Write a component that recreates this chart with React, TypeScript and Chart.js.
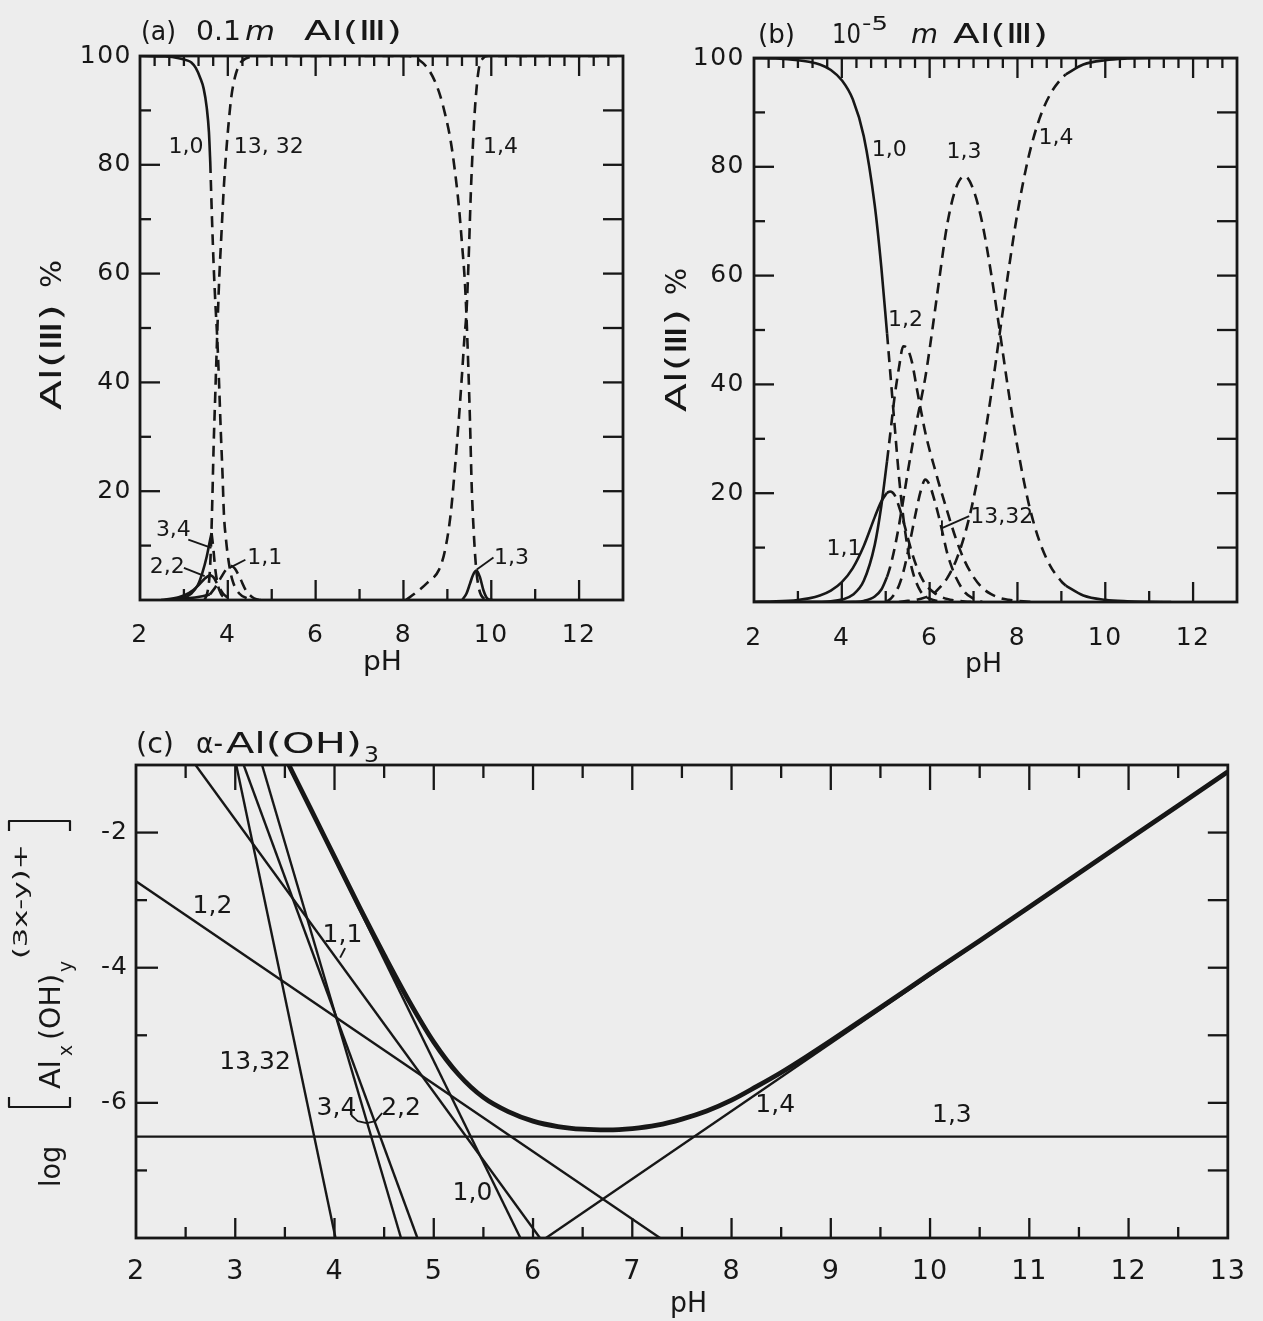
import React, { useEffect, useRef } from "react";
import { Chart, registerables } from "chart.js";
Chart.register(...registerables);

const INK = "#171717";
const PAPER = "#ededed";
const FONT = "'DejaVu Sans', 'Liberation Sans', sans-serif";

// ---------------- Panel (a): 0.1 m Al(III) ----------------
const aXTicks = [2, 4, 6, 8, 10, 12];
const aYTicks = [20, 40, 60, 80, 100];

const a10SolidPH = [2.0, 2.58, 2.88, 3.07, 3.17, 3.27, 3.37, 3.45, 3.52, 3.57, 3.6];
const a10SolidPct = [100, 99.9, 99.6, 99.2, 98.8, 97.8, 96, 94, 90.5, 86, 80.5];
const a10DashPH = [3.6, 3.64, 3.68, 3.72, 3.76, 3.8, 3.84, 3.88, 3.91, 3.96, 4.03, 4.11, 4.26, 4.45, 4.75];
const a10DashPct = [80.5, 70, 61, 54, 48, 40, 31, 23, 16, 11, 6.5, 3.5, 1.2, 0.3, 0];

const a1332PH = [3.469, 3.538, 3.587, 3.617, 3.646, 3.676, 3.715, 3.755, 3.804, 3.853, 3.903, 3.942, 4.011, 4.08, 4.159, 4.267, 4.405, 4.652, 8.104, 8.351, 8.598, 8.805, 8.943, 9.071, 9.17, 9.259, 9.338, 9.397, 9.436, 9.476, 9.515, 9.554, 9.604, 9.653, 9.722, 9.83, 9.978];
const a1332Pct = [0, 1.5, 4.8, 10, 18, 28, 38, 48, 59, 67, 75, 80, 87, 92.5, 96, 98.5, 99.5, 100, 100, 99.3, 97.2, 93.5, 89.5, 84.6, 79, 72.6, 65, 58.7, 52, 43, 33, 21, 12, 6, 2, 0.3, 0];

const a14PH = [8.055, 8.262, 8.548, 8.805, 8.943, 9.071, 9.17, 9.259, 9.338, 9.387, 9.436, 9.486, 9.535, 9.584, 9.634, 9.713, 9.801, 9.929, 13];
const a14Pct = [0, 1.2, 3.2, 5.5, 9, 15.5, 24, 33, 42, 48, 53, 63, 75, 84, 91, 97.5, 99.5, 100, 100];

const a13PH = [9.337, 9.436, 9.515, 9.584, 9.663, 9.742, 9.821, 9.909, 10.027];
const a13Pct = [0, 1.2, 3, 4.6, 5.4, 4.2, 1.8, 0.3, 0];

const a34SolidPH = [2.68, 2.975, 3.17, 3.32, 3.42, 3.52, 3.59, 3.63];
const a34SolidPct = [0, 0.4, 1.2, 2.8, 5, 8, 10.8, 12.3];
const a34DashPH = [3.63, 3.67, 3.71, 3.765, 3.84, 3.96];
const a34DashPct = [12.3, 9.5, 6, 3, 1.2, 0.2];

const a22SolidPH = [2.48, 2.88, 3.12, 3.32, 3.47, 3.59];
const a22SolidPct = [0, 0.5, 1.3, 2.6, 3.9, 4.6];
const a22DashPH = [3.59, 3.67, 3.77, 3.89, 4.02];
const a22DashPct = [4.6, 4.2, 2.8, 1.2, 0.3];

const a11SolidPH = [2.58, 3.07, 3.42, 3.59];
const a11SolidPct = [0, 0.3, 0.7, 1.0];
const a11DashPH = [3.59, 3.72, 3.85, 3.96, 4.06, 4.16, 4.28, 4.41, 4.56, 4.7];
const a11DashPct = [1.0, 2.4, 4.2, 5.6, 6.3, 5.8, 4, 1.8, 0.5, 0];

// ---------------- Panel (b): 1e-5 m Al(III) ----------------
const bXTicks = [2, 4, 6, 8, 10, 12];
const bYTicks = [20, 40, 60, 80, 100];

const b10SolidPH = [2, 2.5, 3, 3.25, 3.5, 3.75, 4, 4.25, 4.5, 4.75, 4.9, 5.03];
const b10SolidPct = [99.96, 99.9, 99.6, 99.3, 98.8, 97.8, 95.9, 92.4, 85.6, 72.9, 61.5, 49.4];
const b10DashPH = [5.03, 5.1, 5.2, 5.3, 5.4, 5.5, 5.6, 5.7, 5.8, 5.9, 6.0, 6.2, 6.4];
const b10DashPct = [49.4, 42.5, 32.7, 23.2, 15.6, 9.9, 6.0, 3.5, 1.9, 1.1, 0.6, 0.15, 0];

const b11SolidPH = [2, 2.5, 3, 3.25, 3.5, 3.75, 4, 4.25, 4.5, 4.75, 4.9, 5.03];
const b11SolidPct = [0.04, 0.12, 0.38, 0.67, 1.19, 2.09, 3.65, 6.24, 10.3, 15.6, 18.5, 20.1];
const b11DashPH = [5.03, 5.1, 5.2, 5.3, 5.4, 5.5, 5.6, 5.7, 5.8, 5.9, 6.0, 6.2, 6.4, 6.6, 6.8, 7.0];
const b11DashPct = [20.1, 20.3, 19.7, 17.6, 14.9, 11.9, 9.0, 6.6, 4.7, 3.3, 2.4, 1.2, 0.55, 0.24, 0.1, 0];

const b12SolidPH = [3, 3.5, 3.75, 4, 4.25, 4.5, 4.75, 4.9, 5.03];
const b12SolidPct = [0.01, 0.05, 0.14, 0.44, 1.33, 3.9, 10.5, 17.7, 25.9];
const b12DashPH = [5.03, 5.1, 5.2, 5.3, 5.4, 5.5, 5.6, 5.7, 5.8, 5.9, 6.0, 6.1, 6.2, 6.4, 6.6, 6.8, 7.0, 7.2, 7.4, 7.6, 7.8, 8.0, 8.4];
const b12DashPct = [25.9, 30.7, 37.6, 43, 47, 46.5, 44, 39.6, 35.3, 31.2, 27.9, 25.0, 22.1, 16.7, 11.6, 7.5, 4.6, 2.6, 1.45, 0.75, 0.4, 0.2, 0];

const b13SolidPH = [4.0, 4.25, 4.5, 4.75, 4.9, 5.03];
const b13SolidPct = [0, 0.04, 0.2, 1.0, 2.3, 4.6];
const b13DashPH = [5.03, 5.1, 5.2, 5.3, 5.4, 5.5, 5.6, 5.7, 5.8, 5.9, 6.0, 6.1, 6.2, 6.4, 6.6, 6.8, 7.0, 7.2, 7.4, 7.6, 7.8, 8.0, 8.25, 8.5, 8.75, 9.0, 9.1];
const b13DashPct = [4.6, 6.4, 9.8, 14.0, 18.8, 23.8, 28.5, 33.0, 37.0, 41.2, 46.5, 52.3, 58.2, 69.4, 76.1, 78.3, 75.7, 69.6, 60.4, 49.6, 38.5, 28.5, 18.3, 11.2, 6.6, 3.8, 3.0];
const b13Solid2PH = [9.1, 9.5, 10, 10.5, 11, 11.5];
const b13Solid2Pct = [3.0, 1.2, 0.4, 0.13, 0.04, 0];

const b14DashPH = [5.3, 5.5, 5.7, 5.9, 6.0, 6.1, 6.2, 6.4, 6.6, 6.8, 7.0, 7.2, 7.4, 7.6, 7.8, 8.0, 8.25, 8.5, 8.75, 9.0, 9.1];
const b14DashPct = [0, 0.2, 0.4, 0.85, 1.2, 1.6, 2.4, 4.4, 7.6, 12.4, 19.0, 27.7, 38.1, 49.6, 61.1, 71.5, 81.7, 88.8, 93.4, 96.2, 97.0];
const b14SolidPH = [9.1, 9.5, 10, 10.5, 11, 13];
const b14SolidPct = [97.0, 98.8, 99.6, 99.9, 100, 100];

const b1332DashPH = [5.0, 5.1, 5.2, 5.3, 5.4, 5.5, 5.6, 5.7, 5.8, 5.9, 6.0, 6.1, 6.2, 6.3, 6.4, 6.5, 6.6, 6.8, 7.0, 7.2];
const b1332DashPct = [0, 0.5, 1.5, 3, 5.5, 9, 13, 17, 20.5, 22.5, 21.5, 19, 16, 12.5, 9, 6.5, 4.5, 1.8, 0.6, 0];

// ---------------- Panel (c): alpha-Al(OH)3 ----------------
const cXTicks = [2, 3, 4, 5, 6, 7, 8, 9, 10, 11, 12, 13];
const cYTicks = [-6, -4, -2];

const c10PH = [3.54, 5.873];
const c10Log = [-1, -8];
const c11PH = [2.6, 6.07];
const c11Log = [-1, -8];
const c12PH = [2.0, 7.28];
const c12Log = [-2.72, -8];
const c13PH = [2.0, 13.0];
const c13Log = [-6.5, -6.5];
const c14PH = [6.13, 13.0];
const c14Log = [-8, -1.1];
const c22PH = [3.085, 4.835];
const c22Log = [-1, -8];
const c34PH = [3.27, 4.67];
const c34Log = [-1, -8];
const c1332PH = [3.01, 4.01];
const c1332Log = [-1, -8];
const cTotalPH = [3.54, 3.75, 4.0, 4.25, 4.5, 4.75, 5.0, 5.25, 5.5, 5.75, 6.0, 6.25, 6.5, 6.75, 7.0, 7.25, 7.5, 7.75, 8.0, 8.25, 8.5, 8.75, 9.0, 9.5, 10, 10.5, 11, 12, 13];
const cTotalLog = [-1, -1.62, -2.36, -3.1, -3.81, -4.49, -5.1, -5.58, -5.92, -6.13, -6.27, -6.35, -6.39, -6.4, -6.38, -6.33, -6.24, -6.12, -5.96, -5.76, -5.55, -5.32, -5.08, -4.59, -4.09, -3.6, -3.1, -2.1, -1.1];

// ---------------- helpers ----------------
type Side = "left" | "right" | "top" | "bottom";
interface TickMark { side: Side; values: number[]; len: number }
interface Label { t: string; x: number; y: number }
interface Run { t: string; x: number; y?: number; size: number; w?: number; italic?: boolean }
interface Bracket { x: number; y0: number; y1: number; dir: number; serif: number }
interface TextBlock { x: number; y: number; rot?: number; runs: Run[]; brackets?: Bracket[] }
interface PanelSpec {
  left: number; top: number; width: number; height: number;
  area: { left: number; top: number; right: number; bottom: number };
  xMin: number; xMax: number; yMin: number; yMax: number;
  xTicks: number[]; yTicks: number[];
  xFont: number; yFont: number; xPad: number; yPad: number; spacing: string;
  datasets: any[];
  marks: TickMark[]; tickWidth: number; frameWidth: number;
  labels: Label[]; labelSize: number; leaders: number[][][];
  texts: TextBlock[];
}

const seq = (a: number, b: number, step: number) => {
  const out: number[] = [];
  for (let i = 0; a + i * step <= b + 1e-9; i++) out.push(Math.round((a + i * step) * 1000) / 1000);
  return out;
};
const isInt = (v: number) => Math.abs(v - Math.round(v)) < 0.01;

const line = (xs: number[], ys: number[], dash = false, w = 2.6, smooth = true) => ({
  data: xs.map((x, i) => ({ x, y: ys[i] })),
  borderColor: INK,
  borderWidth: w,
  borderDash: dash ? [11, 7] : [],
  pointRadius: 0,
  fill: false,
  tension: 0,
  cubicInterpolationMode: smooth ? "monotone" : "default",
});

function drawBlock(ctx: CanvasRenderingContext2D, b: TextBlock, offX: number, offY: number) {
  ctx.save();
  ctx.translate(b.x - offX, b.y - offY);
  if (b.rot) ctx.rotate(b.rot);
  ctx.fillStyle = INK;
  ctx.textAlign = "left";
  ctx.textBaseline = "alphabetic";
  (ctx as any).letterSpacing = "0px";
  for (const r of b.runs) {
    ctx.font = `${r.italic ? "italic " : ""}${r.size}px ${FONT}`;
    const m = ctx.measureText(r.t).width;
    const sx = r.w ? r.w / m : 1;
    ctx.save();
    ctx.translate(r.x, r.y || 0);
    ctx.scale(sx, 1);
    ctx.fillText(r.t, 0, 0);
    ctx.restore();
  }
  ctx.strokeStyle = INK;
  ctx.lineWidth = 2.2;
  for (const k of b.brackets || []) {
    ctx.beginPath();
    ctx.moveTo(k.x + k.dir * k.serif, k.y0);
    ctx.lineTo(k.x, k.y0);
    ctx.lineTo(k.x, k.y1);
    ctx.lineTo(k.x + k.dir * k.serif, k.y1);
    ctx.stroke();
  }
  ctx.restore();
}

function makeDeco(p: PanelSpec) {
  return {
    id: "deco",
    beforeDraw(chart: any) {
      chart.ctx.letterSpacing = p.spacing;
    },
    afterDraw(chart: any) {
      const ctx: CanvasRenderingContext2D = chart.ctx;
      const a = chart.chartArea;
      const xs = chart.scales.x;
      const ys = chart.scales.y;
      ctx.save();
      (ctx as any).letterSpacing = "0px";
      ctx.strokeStyle = INK;
      ctx.lineCap = "butt";
      ctx.lineWidth = p.tickWidth;
      for (const m of p.marks) {
        for (const v of m.values) {
          ctx.beginPath();
          if (m.side === "left") {
            const y = ys.getPixelForValue(v);
            ctx.moveTo(a.left, y); ctx.lineTo(a.left + m.len, y);
          } else if (m.side === "right") {
            const y = ys.getPixelForValue(v);
            ctx.moveTo(a.right, y); ctx.lineTo(a.right - m.len, y);
          } else if (m.side === "bottom") {
            const x = xs.getPixelForValue(v);
            ctx.moveTo(x, a.bottom); ctx.lineTo(x, a.bottom - m.len);
          } else {
            const x = xs.getPixelForValue(v);
            ctx.moveTo(x, a.top); ctx.lineTo(x, a.top + m.len);
          }
          ctx.stroke();
        }
      }
      ctx.lineWidth = p.frameWidth;
      ctx.strokeRect(a.left, a.top, a.right - a.left, a.bottom - a.top);
      ctx.lineWidth = 1.9;
      ctx.lineJoin = "round";
      for (const L of p.leaders) {
        ctx.beginPath();
        L.forEach((pt, i) => {
          const X = xs.getPixelForValue(pt[0]);
          const Y = ys.getPixelForValue(pt[1]);
          if (i === 0) ctx.moveTo(X, Y); else ctx.lineTo(X, Y);
        });
        ctx.stroke();
      }
      ctx.fillStyle = INK;
      ctx.font = `${p.labelSize}px ${FONT}`;
      ctx.textAlign = "center";
      ctx.textBaseline = "middle";
      for (const l of p.labels) {
        ctx.fillText(l.t, xs.getPixelForValue(l.x), ys.getPixelForValue(l.y));
      }
      for (const b of p.texts) drawBlock(ctx, b, p.left, p.top);
      ctx.restore();
    },
  };
}

function buildConfig(p: PanelSpec): any {
  const yW = p.area.left - p.left;
  const xH = p.top + p.height - p.area.bottom;
  return {
    type: "line",
    data: { datasets: p.datasets },
    options: {
      responsive: false,
      maintainAspectRatio: false,
      animation: false,
      events: [],
      layout: { padding: { top: p.area.top - p.top, right: p.left + p.width - p.area.right, bottom: 0, left: 0 } },
      plugins: { legend: { display: false }, tooltip: { enabled: false }, title: { display: false } },
      scales: {
        x: {
          type: "linear", min: p.xMin, max: p.xMax,
          grid: { display: false, drawTicks: false }, border: { display: false },
          afterBuildTicks: (s: any) => { s.ticks = p.xTicks.map((v) => ({ value: v })); },
          afterFit: (s: any) => { s.height = xH; },
          ticks: { color: INK, font: { family: FONT, size: p.xFont }, padding: p.xPad, maxRotation: 0, minRotation: 0, autoSkip: false },
        },
        y: {
          type: "linear", min: p.yMin, max: p.yMax,
          grid: { display: false, drawTicks: false }, border: { display: false },
          afterBuildTicks: (s: any) => { s.ticks = p.yTicks.map((v) => ({ value: v })); },
          afterFit: (s: any) => { s.width = yW; },
          ticks: { color: INK, font: { family: FONT, size: p.yFont }, padding: p.yPad, autoSkip: false },
        },
      },
    },
    plugins: [makeDeco(p)],
  };
}

// ---------------- tick marks ----------------
const pctMajor = [20, 40, 60, 80];
const pctMinor = [10, 30, 50, 70, 90];
const pctAll = [10, 20, 30, 40, 50, 60, 70, 80, 90];
const phEven = [4, 6, 8, 10, 12];
const phOdd = [3, 5, 7, 9, 11];
const phThirds = seq(2, 13, 1 / 3).filter((v) => v > 2.05 && v < 12.95 && !(isInt(v) && Math.round(v) % 2 === 0));

const pctMarks: TickMark[] = [
  { side: "left", values: pctMajor, len: 20 },
  { side: "left", values: pctMinor, len: 11 },
  { side: "right", values: pctAll, len: 20 },
  { side: "bottom", values: phEven, len: 20 },
  { side: "bottom", values: phOdd, len: 11 },
  { side: "top", values: phEven, len: 20 },
  { side: "top", values: phThirds, len: 10 },
];

const cInts = seq(3, 12, 1);
const cHalves = seq(2.5, 12.5, 1);
const cMarks: TickMark[] = [
  { side: "left", values: [-2, -4, -6], len: 22 },
  { side: "left", values: [-3, -5, -7], len: 11 },
  { side: "right", values: [-2, -3, -4, -5, -6, -7], len: 20 },
  { side: "top", values: cInts, len: 25 },
  { side: "top", values: cHalves, len: 13 },
  { side: "bottom", values: cInts, len: 20 },
  { side: "bottom", values: cHalves, len: 11 },
];

// ---------------- labels ----------------
const aLabels: Label[] = [
  { t: "1,0", x: 3.05, y: 83.3 },
  { t: "13, 32", x: 4.93, y: 83.3 },
  { t: "1,4", x: 10.21, y: 83.3 },
  { t: "3,4", x: 2.76, y: 12.8 },
  { t: "2,2", x: 2.62, y: 6.0 },
  { t: "1,1", x: 4.84, y: 7.6 },
  { t: "1,3", x: 10.46, y: 7.6 },
];
const aLeaders = [
  [[3.1, 11.1], [3.626, 9.6]],
  [[3.0, 5.9], [3.474, 4.4]],
  [[4.4, 7.4], [4.04, 5.9]],
  [[10.05, 7.8], [9.67, 5.6]],
];

const bLabels: Label[] = [
  { t: "1,0", x: 5.08, y: 83 },
  { t: "1,3", x: 6.78, y: 82.6 },
  { t: "1,4", x: 8.88, y: 85.2 },
  { t: "1,2", x: 5.45, y: 51.8 },
  { t: "1,1", x: 4.05, y: 9.6 },
  { t: "13,32", x: 7.64, y: 15.5 },
];
const bLeaders = [
  [[6.9, 15.8], [6.28, 13.6]],
  [[6.28, 12.2], [6.28, 15.0]],
];

const cLabels: Label[] = [
  { t: "1,2", x: 2.77, y: -3.1 },
  { t: "1,1", x: 4.08, y: -3.52 },
  { t: "13,32", x: 3.2, y: -5.4 },
  { t: "3,4", x: 4.02, y: -6.09 },
  { t: "2,2", x: 4.67, y: -6.09 },
  { t: "1,0", x: 5.39, y: -7.34 },
  { t: "1,4", x: 8.44, y: -6.04 },
  { t: "1,3", x: 10.22, y: -6.19 },
];
const cLeaders = [
  [[4.107, -3.71], [4.057, -3.85]],
  [[4.167, -6.18], [4.234, -6.27], [4.323, -6.3], [4.412, -6.27], [4.48, -6.15]],
];

// ---------------- panels ----------------
const panelA: PanelSpec = {
  left: 0, top: 0, width: 640, height: 680,
  area: { left: 140, top: 56, right: 623, bottom: 600 },
  xMin: 2, xMax: 13, yMin: 0, yMax: 100, xTicks: aXTicks, yTicks: aYTicks,
  xFont: 25, yFont: 25, xPad: 20, yPad: 8, spacing: "1.5px",
  datasets: [
    line(a10SolidPH, a10SolidPct),
    line(a10DashPH, a10DashPct, true),
    line(a1332PH, a1332Pct, true),
    line(a14PH, a14Pct, true),
    line(a13PH, a13Pct),
    line(a34SolidPH, a34SolidPct),
    line(a34DashPH, a34DashPct, true),
    line(a22SolidPH, a22SolidPct),
    line(a22DashPH, a22DashPct, true),
    line(a11SolidPH, a11SolidPct),
    line(a11DashPH, a11DashPct, true),
  ],
  marks: pctMarks, tickWidth: 2.3, frameWidth: 2.8,
  labels: aLabels, labelSize: 22, leaders: aLeaders,
  texts: [
    { x: 0, y: 40, runs: [
      { t: "(a)", x: 141, size: 26, w: 35 },
      { t: "0.1", x: 196, size: 26, w: 45 },
      { t: "m", x: 245, size: 27, w: 30, italic: true },
      { t: "Al(Ⅲ)", x: 304, size: 26, w: 98 },
    ] },
    { x: 0, y: 670, runs: [{ t: "pH", x: 363, size: 27, w: 39 }] },
    { x: 61, y: 410, rot: -Math.PI / 2, runs: [
      { t: "Al(Ⅲ)", x: 0, size: 28, w: 106 },
      { t: "%", x: 122, size: 28, w: 28 },
    ] },
  ],
};

const panelB: PanelSpec = {
  left: 630, top: 0, width: 633, height: 680,
  area: { left: 754, top: 58, right: 1237, bottom: 602 },
  xMin: 2, xMax: 13, yMin: 0, yMax: 100, xTicks: bXTicks, yTicks: bYTicks,
  xFont: 25, yFont: 25, xPad: 21, yPad: 9, spacing: "1.5px",
  datasets: [
    line(b10SolidPH, b10SolidPct),
    line(b10DashPH, b10DashPct, true),
    line(b11SolidPH, b11SolidPct),
    line(b11DashPH, b11DashPct, true),
    line(b12SolidPH, b12SolidPct),
    line(b12DashPH, b12DashPct, true),
    line(b13SolidPH, b13SolidPct),
    line(b13DashPH, b13DashPct, true),
    line(b13Solid2PH, b13Solid2Pct),
    line(b14DashPH, b14DashPct, true),
    line(b14SolidPH, b14SolidPct),
    line(b1332DashPH, b1332DashPct, true),
  ],
  marks: pctMarks, tickWidth: 2.3, frameWidth: 2.8,
  labels: bLabels, labelSize: 22, leaders: bLeaders,
  texts: [
    { x: 0, y: 43, runs: [
      { t: "(b)", x: 758, size: 26, w: 37 },
      { t: "10", x: 832, size: 26, w: 29 },
      { t: "-5", x: 862, y: -13, size: 19, w: 26 },
      { t: "m", x: 911, size: 27, w: 27, italic: true },
      { t: "Al(Ⅲ)", x: 953, size: 26, w: 95 },
    ] },
    { x: 0, y: 672, runs: [{ t: "pH", x: 965, size: 27, w: 37 }] },
    { x: 686, y: 412, rot: -Math.PI / 2, runs: [
      { t: "Al(Ⅲ)", x: 0, size: 28, w: 103 },
      { t: "%", x: 117, size: 28, w: 27 },
    ] },
  ],
};

const panelC: PanelSpec = {
  left: 0, top: 680, width: 1263, height: 641,
  area: { left: 136, top: 765, right: 1235, bottom: 1238 },
  xMin: 2, xMax: 13, yMin: -8, yMax: -1, xTicks: cXTicks, yTicks: cYTicks,
  xFont: 27, yFont: 25, xPad: 18, yPad: 8, spacing: "1px",
  datasets: [
    line(c10PH, c10Log, false, 2.4, false),
    line(c11PH, c11Log, false, 2.4, false),
    line(c12PH, c12Log, false, 2.4, false),
    line(c13PH, c13Log, false, 2.4, false),
    line(c14PH, c14Log, false, 2.4, false),
    line(c22PH, c22Log, false, 2.4, false),
    line(c34PH, c34Log, false, 2.4, false),
    line(c1332PH, c1332Log, false, 2.4, false),
    line(cTotalPH, cTotalLog, false, 4.8, true),
  ],
  marks: cMarks, tickWidth: 2.3, frameWidth: 2.8,
  labels: cLabels, labelSize: 25, leaders: cLeaders,
  texts: [
    { x: 0, y: 753, runs: [
      { t: "(c)", x: 136, size: 28, w: 38 },
      { t: "α-", x: 196, size: 28, w: 27 },
      { t: "Al(OH)", x: 226, size: 28, w: 136 },
      { t: "3", x: 364, y: 9, size: 22, w: 15 },
    ] },
    { x: 0, y: 1312, runs: [{ t: "pH", x: 670, size: 28, w: 37 }] },
    { x: 60, y: 1187, rot: -Math.PI / 2, runs: [
      { t: "log", x: 0, size: 28, w: 41 },
      { t: "Al", x: 98, size: 28, w: 29 },
      { t: "x", x: 131, y: 12, size: 20, w: 11 },
      { t: "(OH)", x: 147, size: 28, w: 66 },
      { t: "y", x: 215, y: 12, size: 20, w: 11 },
      { t: "(3x-y)+", x: 228, y: -33, size: 20, w: 115 },
    ], brackets: [
      { x: 80, y0: -51, y1: 10, dir: 1, serif: 10 },
      { x: 366, y0: -51, y1: 10, dir: -1, serif: 10 },
    ] },
  ],
};

const panels = [panelA, panelB, panelC];

function Panel({ spec }: { spec: PanelSpec }) {
  const ref = useRef<HTMLCanvasElement>(null);
  useEffect(() => {
    if (!ref.current) return;
    const chart = new Chart(ref.current, buildConfig(spec));
    return () => chart.destroy();
  }, [spec]);
  return (
    <canvas
      ref={ref}
      width={spec.width}
      height={spec.height}
      style={{ position: "absolute", left: spec.left, top: spec.top, width: spec.width, height: spec.height }}
    />
  );
}

export default function App() {
  useEffect(() => {
    document.body.style.margin = "0";
    document.body.style.background = PAPER;
  }, []);
  return (
    <div style={{ position: "absolute", left: 0, top: 0, width: 1263, height: 1321, background: PAPER, overflow: "hidden" }}>
      {panels.map((p, i) => (
        <Panel key={i} spec={p} />
      ))}
    </div>
  );
}
